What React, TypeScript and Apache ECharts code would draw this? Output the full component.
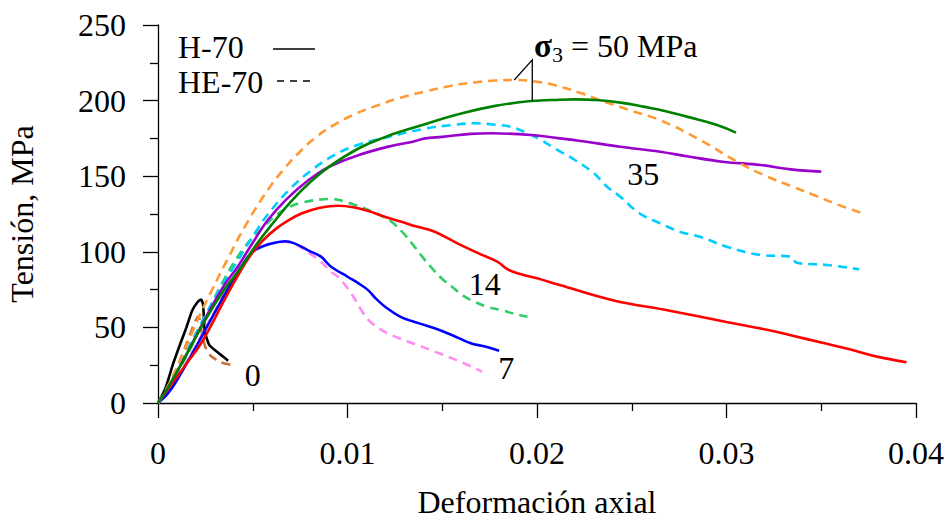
import React, { useEffect, useRef } from "react";
import * as echarts from "echarts";

const FONT = "'Liberation Serif', 'Times New Roman', Times, serif";

// Axis ranges / labels
const xRange = [0, 0.04];
const xStep = 0.01;
const yRange = [0, 250];
const yStep = 50;
const xTitle = "Deformación axial";
const yTitle = "Tensión, MPa";
const legendNames = ["H-70", "HE-70"];

// H-70 (solid) and HE-70 (dashed) curves, [strain, stress MPa]
const h70_s0 = [[0,0],[0.0004,10],[0.0008,26],[0.0012,40],[0.0015,50],[0.0018,61],[0.0021,67],[0.00228,68.5],[0.00238,65],[0.00247,47],[0.0027,38.5],[0.003,35],[0.0033,32],[0.0037,28]];
const he70_s0 = [[0,0],[0.0005,10],[0.001,23],[0.0015,39],[0.0019,52],[0.0021,57],[0.00222,55],[0.0023,47],[0.0025,37],[0.0028,31],[0.0033,27],[0.0039,25]];
const h70_s7 = [[0,0],[0.0005,6],[0.001,15],[0.002,37],[0.003,60],[0.004,82],[0.0049,99],[0.0055,103.5],[0.006,105.5],[0.0067,107],[0.0072,105.6],[0.008,100.5],[0.0086,96.8],[0.0091,90.5],[0.01,83.5],[0.0106,79],[0.0111,74.5],[0.0115,69],[0.012,63.5],[0.0128,57],[0.0137,53],[0.0146,49.4],[0.0155,45],[0.0165,39.5],[0.0172,37.5],[0.018,34.5]];
const he70_s7 = [[0,0],[0.0005,7],[0.001,16],[0.002,38],[0.003,61],[0.004,83],[0.0049,99],[0.0055,104],[0.0062,106],[0.0068,106.5],[0.0074,104],[0.008,99],[0.0086,93.5],[0.0091,87],[0.0095,83.5],[0.0102,72.5],[0.0107,62],[0.0111,55],[0.0117,49],[0.0123,45],[0.013,41.5],[0.0137,38.4],[0.0145,34.5],[0.0153,30.6],[0.0162,26],[0.0171,20.7]];
const h70_s14 = [[0,0],[0.0007,12],[0.0015,26],[0.0023,40],[0.0035,68],[0.0042,84],[0.0049,98],[0.0055,107],[0.0062,115],[0.0069,121],[0.0076,125.5],[0.0085,129],[0.0095,130.5],[0.0103,129.5],[0.0111,127],[0.012,123],[0.0128,120],[0.0137,116.5],[0.0146,113.3],[0.0158,105.6],[0.017,98.5],[0.0179,93.5],[0.0185,88],[0.0192,85],[0.02,82.5],[0.0212,78],[0.024,68],[0.027,61],[0.03,53.6],[0.0325,47.5],[0.0335,44.5],[0.035,40],[0.0365,35.5],[0.038,30.5],[0.0395,27]];
const he70_s14 = [[0,0],[0.0007,14],[0.0015,31],[0.0025,57],[0.0035,82],[0.0045,102],[0.0053,113],[0.0063,125],[0.007,130],[0.0076,132.5],[0.0085,134.5],[0.0092,134.9],[0.0098,133.5],[0.0104,131],[0.0109,128.7],[0.0116,125],[0.0123,120],[0.0129,113],[0.0134,105.6],[0.0139,97.5],[0.0144,90],[0.015,82],[0.0155,77],[0.0161,71],[0.0167,67],[0.0174,63.5],[0.0181,61.5],[0.0188,59],[0.0195,57]];
const h70_s35 = [[0,0],[0.0007,14],[0.0015,32],[0.0025,56],[0.0035,78],[0.0042,90],[0.005,106],[0.0058,121],[0.0068,135],[0.0079,147],[0.009,156],[0.0106,164],[0.0123,170],[0.0135,173],[0.0141,175],[0.015,176],[0.0165,178],[0.0176,178.4],[0.0197,177.2],[0.0212,175],[0.0222,173.5],[0.0244,169.5],[0.0265,166.2],[0.028,163],[0.0298,159.6],[0.0318,157.4],[0.0334,154.5],[0.035,153]];
const he70_s35 = [[0,0],[0.0007,15],[0.0015,34],[0.0025,58],[0.0033,76],[0.004,90],[0.0053,116],[0.006,128],[0.007,142],[0.008,153],[0.0093,164],[0.0105,170.5],[0.012,175.5],[0.0141,181.5],[0.0155,183.8],[0.0167,185],[0.0178,184],[0.0186,182.7],[0.0194,179],[0.0202,174],[0.021,168],[0.022,160.7],[0.023,152],[0.0237,143],[0.0244,136.4],[0.0254,125.5],[0.0265,118.8],[0.0276,113],[0.0286,110],[0.03,103.4],[0.0318,97.9],[0.0334,96.8],[0.0337,92.8],[0.0353,91.3],[0.037,88.4]];
const h70_s50 = [[0,0],[0.0007,14],[0.0015,32],[0.0025,55],[0.0035,75],[0.0044,90],[0.0052,105],[0.0062,121],[0.007,133],[0.0079,144.5],[0.009,156],[0.0106,168.5],[0.012,176],[0.0132,181],[0.0145,186],[0.0158,190.8],[0.0178,196.5],[0.0197,199.7],[0.0212,200.6],[0.022,200.8],[0.0233,200.2],[0.0245,198.5],[0.0256,196],[0.0268,193],[0.0279,189.4],[0.0295,183.9],[0.0305,178.8]];
const he70_s50 = [[0,0],[0.0006,13],[0.0013,32],[0.0022,58],[0.0029,76],[0.0035,91],[0.0046,117],[0.0058,141],[0.0066,154],[0.0074,165],[0.0083,175.5],[0.0093,184],[0.0103,190.5],[0.0114,196],[0.0127,201.5],[0.0141,206],[0.0155,209.8],[0.0167,212],[0.0178,213.3],[0.0188,213.6],[0.0198,212.8],[0.021,210],[0.0223,205],[0.0233,200.4],[0.0248,194],[0.0265,187],[0.0286,174],[0.0305,160],[0.0321,150],[0.0334,143.5],[0.0346,137.6],[0.0358,131.5],[0.0372,125.5]];

// Curve annotations: confining pressure labels and their data anchors
const curveLabels = ["0", "7", "14", "35"];
const curveLabelAt = [[0.005, 18.5], [0.01838, 23], [0.01724, 78.7], [0.02561, 151.5]];

const seriesDefs = [
  { name: "H-70 σ3=0", data: h70_s0, color: "#000000", dashed: false, smooth: 0.15 },
  { name: "HE-70 σ3=0", data: he70_s0, color: "#c8703a", dashed: true, smooth: 0.15 },
  { name: "HE-70 σ3=7", data: he70_s7, color: "#ff8cf5", dashed: true, smooth: 0.35 },
  { name: "H-70 σ3=7", data: h70_s7, color: "#0000ff", dashed: false, smooth: 0.35 },
  { name: "HE-70 σ3=14", data: he70_s14, color: "#33cc66", dashed: true, smooth: 0.4 },
  { name: "H-70 σ3=14", data: h70_s14, color: "#ff0000", dashed: false, smooth: 0.4 },
  { name: "HE-70 σ3=35", data: he70_s35, color: "#00ccff", dashed: true, smooth: 0.4 },
  { name: "H-70 σ3=35", data: h70_s35, color: "#9900cc", dashed: false, smooth: 0.4 },
  { name: "HE-70 σ3=50", data: he70_s50, color: "#ff9933", dashed: true, smooth: 0.45 },
  { name: "H-70 σ3=50", data: h70_s50, color: "#008000", dashed: false, smooth: 0.45 },
];

export default function App() {
  const ref = useRef<HTMLDivElement>(null);
  useEffect(() => {
    if (!ref.current) return;
    const chart = echarts.init(ref.current, null, { renderer: "svg" });
    const axisLine = { show: true, onZero: false, lineStyle: { color: "#000", width: 1.3 } };
    const tickStyle = { color: "#000", width: 1.3 };
    chart.setOption({
      animation: false,
      backgroundColor: "#ffffff",
      grid: { left: 158, right: 30, top: 25, bottom: 117, containLabel: false, outerBoundsMode: "none" },
      xAxis: {
        type: "value",
        min: xRange[0],
        max: xRange[1],
        interval: xStep,
        axisLine,
        axisTick: { show: true, inside: false, length: 15, lineStyle: tickStyle },
        minorTick: { show: true, splitNumber: 2, length: 8, lineStyle: tickStyle },
        splitLine: { show: false },
        axisLabel: {
          margin: 34,
          fontFamily: FONT,
          fontSize: 32,
          color: "#000",
          formatter: (v: number) => (v === 0 ? "0" : String(+v.toFixed(3))),
        },
        name: xTitle,
        nameLocation: "middle",
        nameGap: 83,
        nameTextStyle: { fontFamily: FONT, fontSize: 32, color: "#000" },
      },
      yAxis: {
        type: "value",
        min: yRange[0],
        max: yRange[1],
        interval: yStep,
        axisLine,
        axisTick: { show: true, inside: false, length: 15, lineStyle: tickStyle },
        minorTick: { show: true, splitNumber: 2, length: 8, lineStyle: tickStyle },
        splitLine: { show: false },
        axisLabel: { margin: 32, fontFamily: FONT, fontSize: 32, color: "#000" },
        name: yTitle,
        nameLocation: "middle",
        nameGap: 120,
        nameTextStyle: { fontFamily: FONT, fontSize: 32, color: "#000" },
      },
      series: seriesDefs.map((s) => ({
        type: "line",
        name: s.name,
        data: s.data,
        showSymbol: false,
        symbol: "none",
        smooth: s.smooth,
        lineStyle: { color: s.color, width: 2.6, type: s.dashed ? [9, 6] : "solid" },
        itemStyle: { color: s.color },
        z: 2,
      })),
    });

    const px = (p: number[]) => chart.convertToPixel({ gridIndex: 0 }, p) as number[];
    const textEl = (text: string, x: number, y: number, align = "left") => ({
      type: "text",
      x,
      y,
      style: { text, fill: "#000", font: `32px ${FONT}`, align, verticalAlign: "middle" },
      z: 10,
    });

    const elbow = px([0.01975, 226.9]);
    const onOrange = px([0.0188, 213.6]);
    const onGreen = px([0.01975, 199.9]);

    const graphics: any[] = [
      textEl(legendNames[0], 178, 47),
      { type: "line", shape: { x1: 273, y1: 49, x2: 315, y2: 49 }, style: { stroke: "#000", lineWidth: 1.3 }, z: 10 },
      textEl(legendNames[1], 178, 82),
      { type: "line", shape: { x1: 277, y1: 81, x2: 315, y2: 81 }, style: { stroke: "#000", lineWidth: 1.3, lineDash: [7, 6] }, z: 10 },
      {
        type: "polyline",
        shape: { points: [onOrange, elbow, onGreen] },
        style: { stroke: "#000", lineWidth: 1.3, fill: null },
        z: 10,
      },
      {
        type: "text",
        x: 534,
        y: 46,
        z: 10,
        style: {
          text: "{s|σ}{b|3}{t| = 50 MPa}",
          verticalAlign: "middle",
          rich: {
            s: { font: `bold 33px ${FONT}`, fill: "#000" },
            b: { font: `22px ${FONT}`, fill: "#000", padding: [16, 0, 0, 0] },
            t: { font: `32px ${FONT}`, fill: "#000" },
          },
        },
      },
    ];
    curveLabels.forEach((lbl, i) => {
      const p = px(curveLabelAt[i]);
      graphics.push(textEl(lbl, p[0], p[1], "center"));
    });
    chart.setOption({ graphic: graphics });

    return () => chart.dispose();
  }, []);
  return <div ref={ref} style={{ position: "absolute", left: 0, top: 0, width: 946, height: 520 }} />;
}
